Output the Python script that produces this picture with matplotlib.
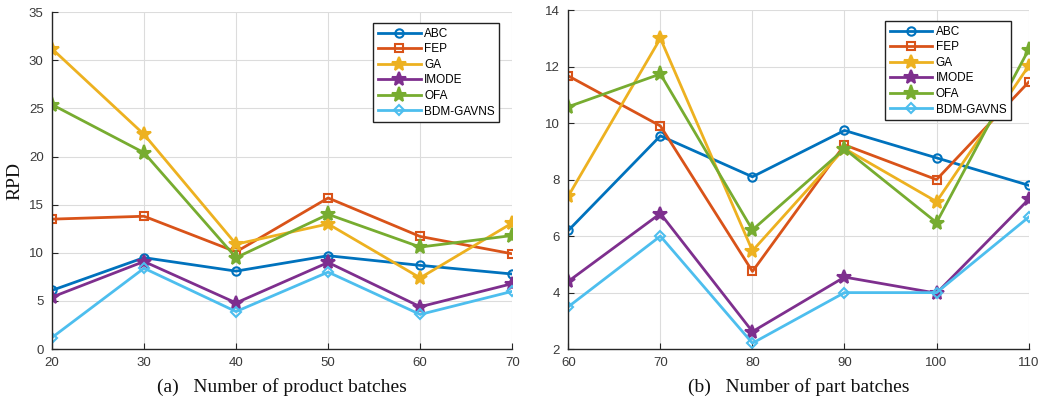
import matplotlib
matplotlib.use("Agg")
import matplotlib.pyplot as plt

# Panel (a): number of product batches
x_a = [20, 30, 40, 50, 60, 70]
abc_a = [6.1, 9.5, 8.1, 9.7, 8.7, 7.8]
fep_a = [13.5, 13.8, 10.1, 15.7, 11.7, 9.9]
ga_a = [31.2, 22.3, 10.9, 13.0, 7.4, 13.1]
imode_a = [5.4, 9.1, 4.8, 9.0, 4.4, 6.8]
ofa_a = [25.4, 20.4, 9.5, 14.0, 10.6, 11.8]
bdm_a = [1.2, 8.4, 3.9, 8.0, 3.6, 6.0]

# Panel (b): number of part batches
x_b = [60, 70, 80, 90, 100, 110]
abc_b = [6.2, 9.55, 8.1, 9.74, 8.77, 7.8]
fep_b = [11.67, 9.9, 4.75, 9.23, 8.0, 11.45]
ga_b = [7.42, 13.0, 5.48, 9.1, 7.22, 12.02]
imode_b = [4.4, 6.8, 2.62, 4.55, 3.98, 7.3]
ofa_b = [10.58, 11.74, 6.22, 9.09, 6.48, 12.6]
bdm_b = [3.5, 6.0, 2.21, 4.0, 4.0, 6.67]

names = ["ABC", "FEP", "GA", "IMODE", "OFA", "BDM-GAVNS"]
colors = ["#0072BD", "#D95319", "#EDB120", "#7E2F8E", "#77AC30", "#4DBEEE"]
markers = ["o", "s", "*", "*", "*", "D"]
fills = ["none", "none", "full", "full", "full", "none"]
msizes = [6, 6, 10, 10, 11, 5]

SANS = ["Liberation Sans", "DejaVu Sans"]
SERIF = ["Liberation Serif", "DejaVu Serif"]


def _panel(ax, x, series, xlim, ylim, yticks, caption, leg_anchor):
    for y, name, c, m, f, ms in zip(series, names, colors, markers, fills, msizes):
        ax.plot(x, y, color=c, lw=2, marker=m, ms=ms, label=name,
                markerfacecolor=(c if f == "full" else "none"),
                markeredgecolor=c, markeredgewidth=1.5)
    ax.set_xlim(*xlim)
    ax.set_ylim(*ylim)
    ax.set_xticks(x)
    ax.set_yticks(yticks)
    ax.grid(True, color="#dcdcdc", lw=0.8)
    ax.set_axisbelow(True)
    for s in ("top", "right"):
        ax.spines[s].set_visible(False)
    for s in ("left", "bottom"):
        ax.spines[s].set_color("#262626")
        ax.spines[s].set_linewidth(1.0)
    ax.tick_params(direction="in", length=4, labelsize=9.5, colors="#262626",
                   labelcolor="#3a3a3a", pad=6)
    for lab in ax.get_xticklabels() + ax.get_yticklabels():
        lab.set_family(SANS)
    ax.set_xlabel(caption, family=SERIF, fontsize=14, color="#111111", labelpad=6)
    leg = ax.legend(loc="upper right", bbox_to_anchor=leg_anchor, prop={"family": SANS, "size": 8.5},
                    handlelength=3.6, labelspacing=0.3, borderpad=0.4, handletextpad=0.3,
                    fancybox=False, framealpha=1, edgecolor="#222222")
    leg.get_frame().set_linewidth(1.0)


fig = plt.figure(figsize=(10.39, 4.05), dpi=100)
ax1 = fig.add_axes([0.050, 0.138, 0.443, 0.832])
ax2 = fig.add_axes([0.547, 0.138, 0.443, 0.837])

_panel(ax1, x_a, [abc_a, fep_a, ga_a, imode_a, ofa_a, bdm_a], (20, 70), (0, 35),
       range(0, 36, 5), "(a)   Number of product batches", (0.985, 0.985))
ax1.set_ylabel("RPD", family=SERIF, fontsize=14, color="#111111", labelpad=4)

_panel(ax2, x_b, [abc_b, fep_b, ga_b, imode_b, ofa_b, bdm_b], (60, 110), (2, 14),
       range(2, 15, 2), "(b)   Number of part batches", (0.975, 0.985))

fig.savefig("out.png", dpi=100, facecolor="white")
